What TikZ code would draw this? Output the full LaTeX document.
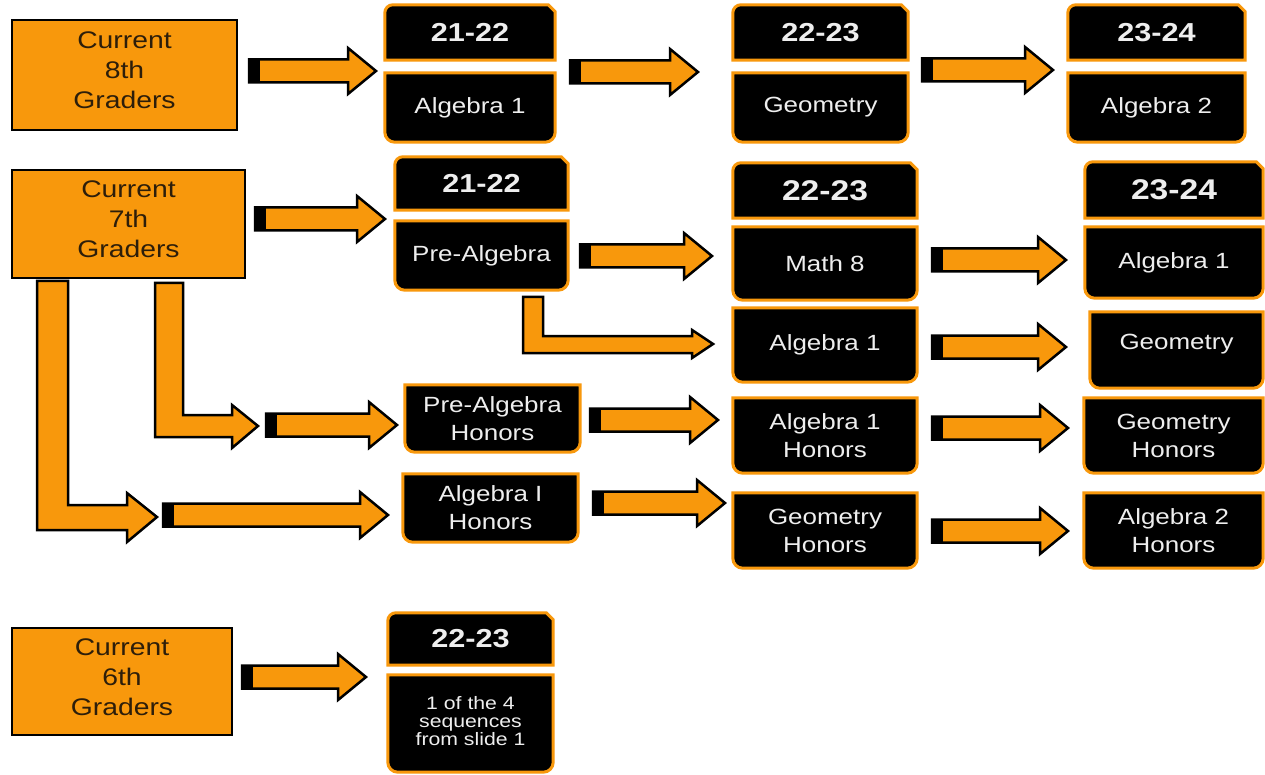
\documentclass[tikz,border=0pt]{standalone}
\usepackage{fontspec}
\newfontfamily\arialx{Liberation Sans}[FakeStretch=1.18]
\pgfdeclarelayer{background}
\pgfsetlayers{background,main}
\definecolor{org}{RGB}{248,152,12}
\definecolor{txtdark}{RGB}{45,30,10}
\definecolor{txtlight}{RGB}{238,238,238}
\newcommand\lowpad[1]{\rule[-#1]{0pt}{#1}}
\newcommand\hdrshape[1]{\path[blkline] (#1.south west) [rounded corners=8pt] -- (#1.north west) [sharp corners] -- ([xshift=-7pt]#1.north east) -- ([yshift=-7pt]#1.north east) -- (#1.south east) -- cycle;}
\newcommand\bodyshape[1]{\path[blkline] (#1.north west) [rounded corners=10pt] -- (#1.south west) -- (#1.south east) [sharp corners] -- (#1.north east) -- cycle;}
\newcommand\fatarrow[3]{%
  \draw[arrowline] (#1,#3-11.5) -- (#2-28,#3-11.5) -- (#2-28,#3-23) -- (#2,#3) -- (#2-28,#3+23) -- (#2-28,#3+11.5) -- (#1,#3+11.5) -- cycle;
  \fill[black] (#1,#3-11.5) rectangle (#1+11,#3+11.5);}
\begin{document}
\begin{tikzpicture}[x=1pt,y=-1pt,
  obox/.style={draw=black, line width=2.5pt, fill=org, inner sep=0pt, align=center, text=txtdark, font=\arialx\fontsize{24}{30}\selectfont},
  slot/.style={inner sep=0pt, align=center, text=txtlight},
  hdrtxt/.style={font=\arialx\bfseries\fontsize{26}{30}\selectfont},
  hdrbig/.style={font=\arialx\bfseries\fontsize{28.5}{30}\selectfont},
  bodytxt/.style={font=\arialx\fontsize{22}{28}\selectfont},
  smalltxt/.style={font=\arialx\fontsize{18}{18}\selectfont},
  blkline/.style={draw=org, fill=black, line width=3pt},
  arrowline/.style={draw=black, fill=org, line width=2.5pt, line join=miter},
]
\useasboundingbox (0,0) rectangle (1265,775);

% grade boxes
\node[obox, minimum width=225, minimum height=110] (g8) at (124.5,75) {Current\\8th\\Graders\lowpad{10pt}};
\node[obox, minimum width=233, minimum height=108] (g7) at (128.5,224) {Current\\7th\\Graders\lowpad{10pt}};
\node[obox, minimum width=220, minimum height=107] (g6) at (122,681.5) {Current\\6th\\Graders\lowpad{9pt}};

% row 1
\node[slot, hdrtxt, minimum width=170, minimum height=55] (h1a) at (470,32.5) {21-22};
\node[slot, bodytxt, minimum width=170, minimum height=69] (b1a) at (470,107.5) {Algebra 1};
\node[slot, hdrtxt, minimum width=175, minimum height=55] (h1b) at (820.5,32.5) {22-23};
\node[slot, bodytxt, minimum width=175, minimum height=69] (b1b) at (820.5,107.5) {Geometry};
\node[slot, hdrtxt, minimum width=177, minimum height=55] (h1c) at (1156.5,32.5) {23-24};
\node[slot, bodytxt, minimum width=177, minimum height=69] (b1c) at (1156.5,107.5) {Algebra 2};

% row 2
\node[slot, hdrtxt, minimum width=173, minimum height=53] (h2a) at (481.5,183.5) {21-22};
\node[slot, bodytxt, minimum width=173, minimum height=69] (b2a) at (481.5,255.5) {Pre-Algebra};
\node[slot, hdrbig, minimum width=184, minimum height=55] (h2b) at (825,190.5) {22-23};
\node[slot, bodytxt, minimum width=184, minimum height=73] (b2b) at (825,263.5) {Math 8};
\node[slot, bodytxt, minimum width=184, minimum height=74] (b2c) at (825,345) {Algebra 1};
\node[slot, hdrbig, minimum width=178, minimum height=56] (h2c) at (1174,190) {23-24};
\node[slot, bodytxt, minimum width=178, minimum height=71] (b2d) at (1174,262.5) {Algebra 1};
\node[slot, bodytxt, minimum width=173, minimum height=76] (b2e) at (1176.5,350) {Geometry\lowpad{16pt}};

% row 3 and 4
\node[slot, bodytxt, minimum width=175, minimum height=67] (b3a) at (492.5,418.5) {Pre-Algebra\\Honors};
\node[slot, bodytxt, minimum width=184, minimum height=75] (b3b) at (825,435.5) {Algebra 1\\Honors};
\node[slot, bodytxt, minimum width=179, minimum height=75] (b3c) at (1173.5,435.5) {Geometry\\Honors};
\node[slot, bodytxt, minimum width=175, minimum height=68] (b4a) at (490.5,508) {Algebra I\\Honors};
\node[slot, bodytxt, minimum width=184, minimum height=75] (b4b) at (825,530.5) {Geometry\\Honors};
\node[slot, bodytxt, minimum width=179, minimum height=75] (b4c) at (1173.5,530.5) {Algebra 2\\Honors};

% row 5
\node[slot, hdrtxt, minimum width=165, minimum height=52] (h5) at (470.5,639) {22-23};
\node[slot, smalltxt, minimum width=165, minimum height=97] (b5) at (470.5,723.5) {1 of the 4\\sequences\\from slide 1\lowpad{5pt}};

\begin{pgfonlayer}{background}
\fill[white] (0,0) rectangle (1265,775);
\hdrshape{h1a}\bodyshape{b1a}
\hdrshape{h1b}\bodyshape{b1b}
\hdrshape{h1c}\bodyshape{b1c}
\hdrshape{h2a}\bodyshape{b2a}
\hdrshape{h2b}\bodyshape{b2b}\bodyshape{b2c}
\hdrshape{h2c}\bodyshape{b2d}\bodyshape{b2e}
\bodyshape{b3a}\bodyshape{b3b}\bodyshape{b3c}
\bodyshape{b4a}\bodyshape{b4b}\bodyshape{b4c}
\hdrshape{h5}\bodyshape{b5}
\end{pgfonlayer}

% straight arrows
\fatarrow{249}{376}{71}
\fatarrow{570}{698}{72}
\fatarrow{922}{1053}{70}
\fatarrow{255}{385}{219}
\fatarrow{580}{712}{256}
\fatarrow{932}{1066}{260}
\fatarrow{932}{1066}{347}
\fatarrow{266}{397}{425}
\fatarrow{590}{718}{420}
\fatarrow{932}{1068}{428}
\fatarrow{163}{388}{515}
\fatarrow{593}{725}{503}
\fatarrow{932}{1068}{531}
\fatarrow{242}{366}{677}

% bent arrows
\draw[arrowline] (523,297) -- (543,297) -- (543,336) -- (692,336) -- (692,330) -- (713,344) -- (692,358) -- (692,353) -- (523,353) -- cycle;
\draw[arrowline] (155,283) -- (183,283) -- (183,415) -- (232,415) -- (232,405) -- (258,426) -- (232,448) -- (232,437) -- (155,437) -- cycle;
\draw[arrowline] (37,281) -- (68,281) -- (68,505) -- (127,505) -- (127,493) -- (157,517) -- (127,542) -- (127,530) -- (37,530) -- cycle;
\end{tikzpicture}
\end{document}
